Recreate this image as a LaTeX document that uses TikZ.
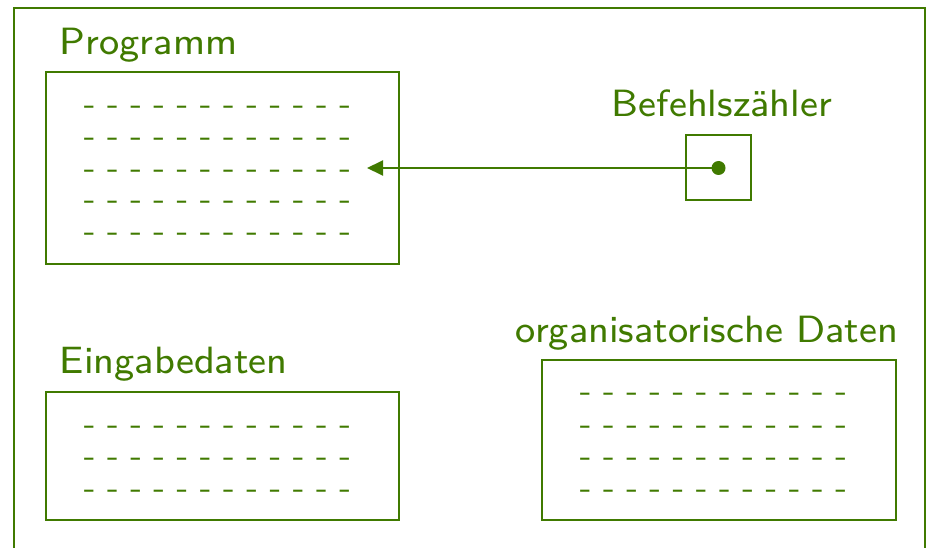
\documentclass[tikz,border=0pt]{standalone}
\usetikzlibrary{arrows.meta}
\definecolor{dgreen}{RGB}{64,122,0}
\begin{document}
\begin{tikzpicture}[x=1pt,y=-1pt,
  every node/.style={text=dgreen,font=\fontsize{8}{9}\selectfont\sffamily,inner sep=0pt,transform shape},
  frame/.style={draw=dgreen,line width=2pt},
  dashrow/.style={anchor=base west,scale=4.1},
  lbl/.style={anchor=base west,scale=4.75}]
\useasboundingbox (0,0) rectangle (928,548);
\draw[frame] (14,8) rectangle (925,570);
% Programm
\draw[frame] (46,72) rectangle (399,264);
\node[lbl] (lprog) at (59,55) {Programm};
\foreach \y [count=\i] in {114.5,146.5,178.5,209.5,241.5}
  \node[dashrow] (p\i) at (83,\y) {- - - - - - - - - - - -};
% Befehlszaehler
\draw[frame] (686,135) rectangle (751,200);
\coordinate (bzc) at (718.5,168);
\node[lbl] (lbz) at (611,117) {Befehlszähler};
\fill[dgreen] (bzc) circle (7pt);
\coordinate (ptr) at (367,168);
\draw[dgreen,line width=2pt,-{Triangle[length=16pt,width=15pt]}] (bzc) -- (ptr);
% Eingabedaten
\draw[frame] (46,392) rectangle (399,520);
\node[lbl] (lein) at (59,373) {Eingabedaten};
\foreach \y [count=\i] in {434.5,466.5,498.5}
  \node[dashrow] (e\i) at (83,\y) {- - - - - - - - - - - -};
% organisatorische Daten
\draw[frame] (542,360) rectangle (896,520);
\node[lbl] (lorg) at (515,342) {organisatorische Daten};
\foreach \y [count=\i] in {401.5,434.5,466.5,498.5}
  \node[dashrow] (o\i) at (579,\y) {- - - - - - - - - - - -};
\end{tikzpicture}
\end{document}
